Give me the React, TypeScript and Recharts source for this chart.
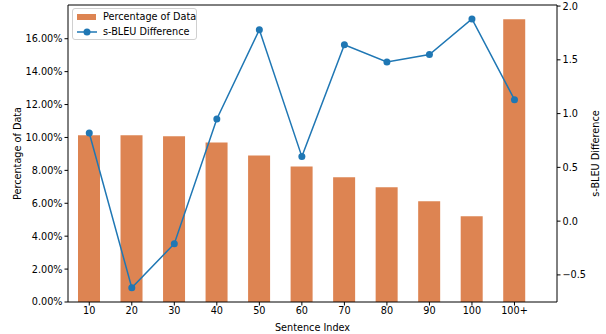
import { ComposedChart, Bar, Line, XAxis, YAxis, ReferenceLine } from 'recharts';

const categories = ['10', '20', '30', '40', '50', '60', '70', '80', '90', '100', '100+'];
const percentageOfData = [10.13, 10.13, 10.07, 9.7, 8.91, 8.24, 7.58, 6.97, 6.12, 5.21, 17.18];
const sBleuDifference = [0.82, -0.62, -0.21, 0.95, 1.78, 0.6, 1.64, 1.48, 1.55, 1.88, 1.13];
const leftTicks = [0, 2, 4, 6, 8, 10, 12, 14, 16];
const rightTicks = [-0.5, 0, 0.5, 1, 1.5, 2];

const data = categories.map((name, i) => ({
  idx: i,
  name,
  pct: percentageOfData[i],
  diff: sBleuDifference[i],
}));

const FONT = 'DejaVu Sans, sans-serif';
const FS = 9.7;
const BAR_COLOR = '#dd8452';
const LINE_COLOR = '#1f77b4';
const tickStyle = { fill: '#000', fontSize: FS, fontFamily: FONT };

function LegendBox() {
  return (
    <div
      style={{
        position: 'absolute',
        left: 72,
        top: 8,
        width: 125,
        height: 32,
        border: '1px solid #d0d0d0',
        borderRadius: 3,
        background: 'rgba(255,255,255,0.8)',
        fontFamily: FONT,
        fontSize: FS,
        color: '#000',
        boxSizing: 'border-box',
      }}
    >
      <div style={{ position: 'absolute', left: 4, top: 5, width: 19, height: 6, background: BAR_COLOR }} />
      <div style={{ position: 'absolute', left: 30, top: 2, lineHeight: '12px', whiteSpace: 'nowrap' }}>Percentage of Data</div>
      <svg style={{ position: 'absolute', left: 3, top: 18 }} width={22} height={10}>
        <line x1={1} x2={21} y1={5} y2={5} stroke={LINE_COLOR} strokeWidth={1.5} />
        <circle cx={11} cy={5} r={3.5} fill={LINE_COLOR} />
      </svg>
      <div style={{ position: 'absolute', left: 30, top: 16.5, lineHeight: '12px', whiteSpace: 'nowrap' }}>s-BLEU Difference</div>
    </div>
  );
}

const rotatedLabel = (cx: number, text: string) => ({ viewBox }: any) => {
  const cy = viewBox.y + viewBox.height / 2;
  return (
    <text x={cx} y={cy} transform={`rotate(-90, ${cx}, ${cy})`} textAnchor="middle" dominantBaseline="central" fontSize={FS} fontFamily={FONT} fill="#000">
      {text}
    </text>
  );
};

export default function App() {
  return (
    <div style={{ position: 'absolute', left: 0, top: 0, width: 606, height: 334, background: '#fff' }}>
      <ComposedChart width={606} height={334} data={data} margin={{ top: 5, right: 0, bottom: 0, left: 0 }}>
        <XAxis
          dataKey="idx"
          type="number"
          domain={[-0.5, 10.98]}
          ticks={data.map((d) => d.idx)}
          tickFormatter={(v: number) => categories[v]}
          allowDecimals={false}
          height={32}
          tick={tickStyle}
          tickSize={3.5}
          tickMargin={2}
          axisLine={{ stroke: '#000', strokeWidth: 1 }}
          tickLine={{ stroke: '#000' }}
          label={{ value: 'Sentence Index', position: 'insideBottom', offset: 3, style: { fill: '#000', fontSize: FS, fontFamily: FONT } }}
        />
        <YAxis
          yAxisId="left"
          orientation="left"
          domain={[0, 18.05]}
          ticks={leftTicks}
          tickFormatter={(v: number) => `${v.toFixed(2)}%`}
          width={68}
          tick={tickStyle}
          tickSize={3.5}
          tickMargin={2}
          axisLine={{ stroke: '#000' }}
          tickLine={{ stroke: '#000' }}
          label={{ content: rotatedLabel(17, 'Percentage of Data') }}
        />
        <YAxis
          yAxisId="right"
          orientation="right"
          domain={[-0.752, 2.01]}
          ticks={rightTicks}
          tickFormatter={(v: number) => v.toFixed(1).replace('-', '\u2212')}
          width={49}
          tick={tickStyle}
          tickSize={3.5}
          tickMargin={2}
          axisLine={{ stroke: '#000' }}
          tickLine={{ stroke: '#000' }}
          label={{ content: rotatedLabel(595, 's-BLEU Difference') }}
        />
        <ReferenceLine yAxisId="left" y={18.05} stroke="#000" strokeWidth={1} />
        <Bar yAxisId="left" dataKey="pct" name="Percentage of Data" fill={BAR_COLOR} barSize={22} isAnimationActive={false} />
        <Line
          yAxisId="right"
          dataKey="diff"
          name="s-BLEU Difference"
          stroke={LINE_COLOR}
          strokeWidth={1.5}
          dot={{ r: 3.5, fill: LINE_COLOR, stroke: LINE_COLOR, strokeWidth: 0 }}
          isAnimationActive={false}
        />
      </ComposedChart>
      <LegendBox />
    </div>
  );
}
